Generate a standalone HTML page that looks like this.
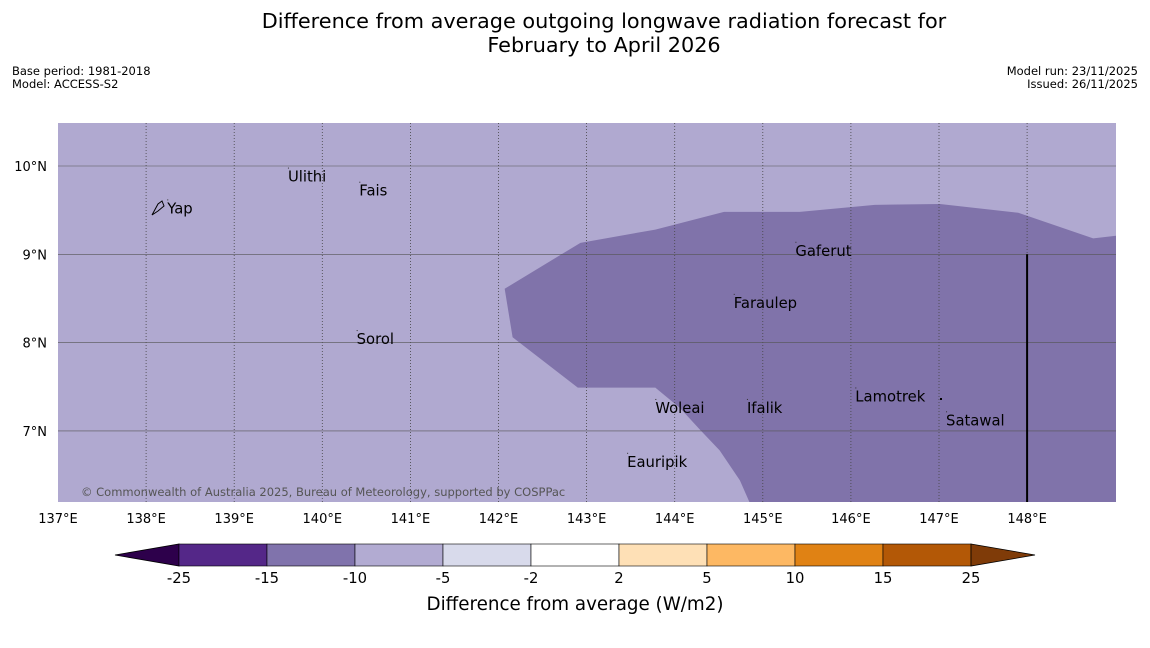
<!DOCTYPE html>
<html><head><meta charset="utf-8"><style>
body{margin:0;background:#fff;font-family:"DejaVu Sans","Liberation Sans",sans-serif;}
svg text{font-family:"DejaVu Sans","Liberation Sans",sans-serif;}
</style></head><body>
<svg width="1150" height="644" viewBox="0 0 1150 644">
<text x="604" y="28" font-size="20.8" text-anchor="middle">Difference from average outgoing longwave radiation forecast for</text>
<text x="604" y="52" font-size="20.8" text-anchor="middle">February to April 2026</text>
<text x="12" y="75" font-size="11.5">Base period: 1981-2018</text>
<text x="12" y="88" font-size="11.5">Model: ACCESS-S2</text>
<text x="1138" y="75" font-size="11.5" text-anchor="end">Model run: 23/11/2025</text>
<text x="1138" y="88" font-size="11.5" text-anchor="end">Issued: 26/11/2025</text>
<g id="map"></g>
<g id="cbar"></g>
<text x="575" y="610" font-size="18.3" text-anchor="middle">Difference from average (W/m2)</text>
</svg>
<script>
const lonTicks=[137,138,139,140,141,142,143,144,145,146,147,148];
const latTicks=[10,9,8,7];
const anomalyLon=[142.07,142.93,143.78,144.56,145.42,146.27,147.01,147.90,148.75,149.01,149.01,144.85,144.74,144.51,144.29,144.06,143.78,142.90,142.16];
const anomalyLat=[8.61,9.13,9.28,9.48,9.48,9.56,9.57,9.47,9.18,9.21,6.19,6.19,6.44,6.78,7.01,7.26,7.49,7.49,8.06];
const placeNames=["Ulithi","Fais","Yap","Gaferut","Faraulep","Sorol","Lamotrek","Woleai","Ifalik","Satawal","Eauripik"];
const placeLon=[139.61,140.42,138.24,145.37,144.67,140.39,146.05,143.78,144.82,147.08,143.46];
const placeLat=[9.88,9.72,9.52,9.04,8.45,8.04,7.39,7.26,7.26,7.12,6.65];
const cbLevels=["-25","-15","-10","-5","-2","2","5","10","15","25"];
const cbColors=["#2d004b","#542788","#8073ac","#b2abd2","#d8daeb","#ffffff","#fee0b6","#fdb863","#e08214","#b35806","#7f3b08"];
const NS="http://www.w3.org/2000/svg";
function mk(tag,attrs,parent,txt){const e=document.createElementNS(NS,tag);for(const k in attrs)e.setAttribute(k,attrs[k]);if(txt!==undefined)e.textContent=txt;parent.appendChild(e);return e;}
const X=lon=>58+(lon-137)*88.1;
const Y=lat=>166+(10-lat)*88.3;
const map=document.getElementById('map');
const bg=mk('rect',{x:58,y:123,width:1058,height:379,fill:'#b0a9d0'},map);


const cp=mk('clipPath',{id:'mc'},map);mk('rect',{x:58,y:123,width:1058,height:379},cp);
const poly=mk('polygon',{points:anomalyLon.map((l,i)=>X(l)+','+Y(anomalyLat[i])).join(' '),fill:'#8073aa','clip-path':'url(#mc)'},map);


lonTicks.forEach(l=>{
 if(l>137){const g=mk('line',{x1:X(l),x2:X(l),y1:123,y2:502,stroke:'#444','stroke-width':0.8,'stroke-dasharray':'1,2'},map);
 }
 const t=mk('text',{x:X(l),y:523,'font-size':13,'text-anchor':'middle'},map,l+'°E');
 
});
latTicks.forEach(l=>{
 const g=mk('line',{x1:58,x2:1116,y1:Y(l),y2:Y(l),stroke:'#555','stroke-width':0.6},map);
 
 const t=mk('text',{x:47,y:Y(l)+5,'font-size':13,'text-anchor':'end'},map,l+'°N');
 
});
const bl=mk('line',{x1:X(148),x2:X(148),y1:Y(9),y2:502,stroke:'#000','stroke-width':2},map);

placeNames.forEach((n,i)=>{
 const t=mk('text',{x:X(placeLon[i]),y:Y(placeLat[i])+5,'font-size':14.8},map,n);
 
 const d=mk('rect',{x:X(placeLon[i]),y:Y(placeLat[i])-9,width:1,height:1,fill:'#333'},map);
 
});
const dot=mk('rect',{x:940,y:398,width:2,height:2,fill:'#000'},map);

const yap=mk('path',{d:'M152,215 L158,204 L162,201 L164,206 L158,211 Z',fill:'none',stroke:'#000','stroke-width':1},map);

const cr=mk('text',{x:81,y:496,'font-size':11.5,fill:'#555'},map,'© Commonwealth of Australia 2025, Bureau of Meteorology, supported by COSPPac');

const cb=document.getElementById('cbar');
const bx=i=>179+i*88;
const lt=mk('polygon',{points:'115,555 179,544 179,566',fill:cbColors[0],stroke:'#000','stroke-width':0.8},cb);

for(let i=0;i<cbLevels.length-1;i++){
 const r=mk('rect',{x:bx(i),y:544,width:88,height:22,fill:cbColors[i+1],stroke:'#000','stroke-width':0.6},cb);
 
}
const rt=mk('polygon',{points:'971,544 1035,555 971,566',fill:cbColors[10],stroke:'#000','stroke-width':0.8},cb);

cbLevels.forEach((v,i)=>{
 const t=mk('text',{x:bx(i),y:583,'font-size':14.8,'text-anchor':'middle'},cb,v);
 
});
</script>
</body></html>
